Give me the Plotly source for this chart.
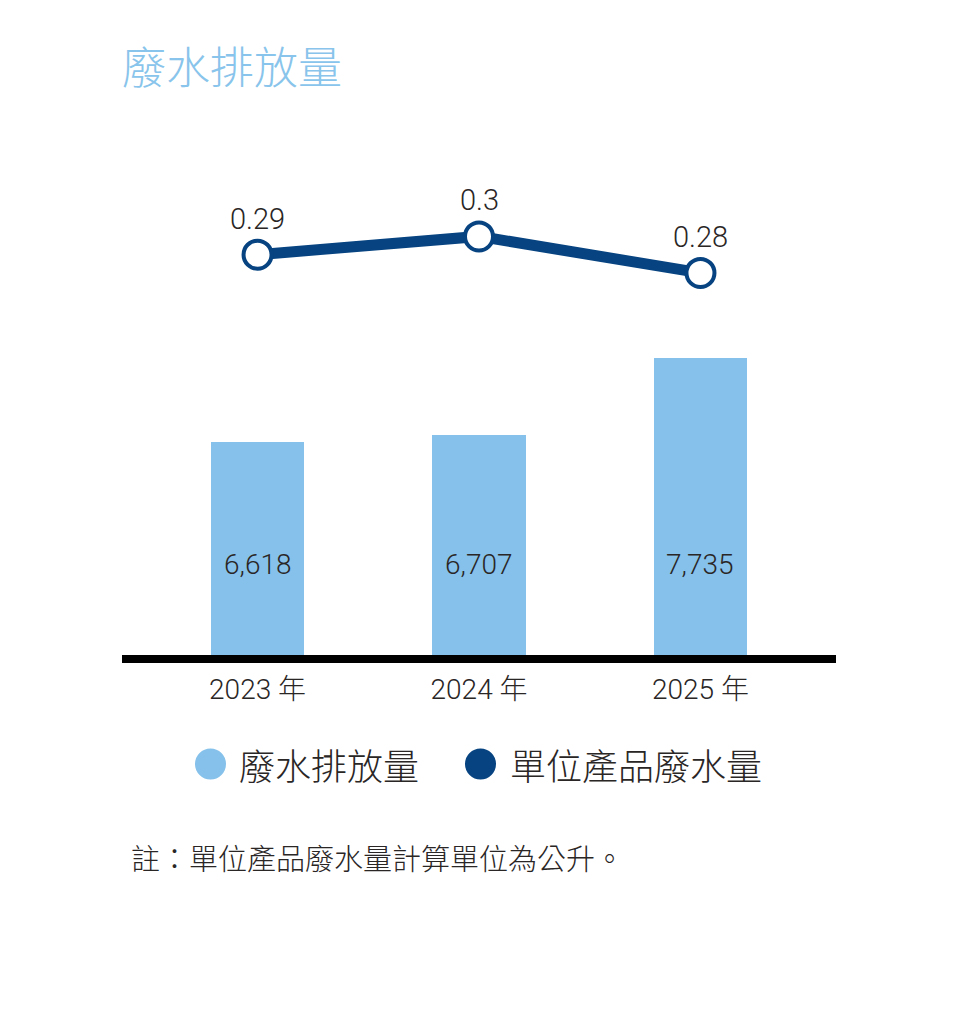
import plotly.graph_objects as go

# ---- data ----
years = ["2023 年", "2024 年", "2025 年"]
wastewater = [6618, 6707, 7735]          # 廢水排放量
unit_wastewater = [0.29, 0.3, 0.28]      # 單位產品廢水量
unit_labels = ["0.29", "0.3", "0.28"]
series_names = ["廢水排放量", "單位產品廢水量"]
title_text = "廢水排放量"
note_text = "註：單位產品廢水量計算單位為公升。"

# ---- style ----
OFF = 8                       # page body margin
W, H = 954 - OFF, 1024 - OFF
L, R, T, B = 122 - OFF, 836 - OFF, 180 - OFF, 655 - OFF
BAR_C = "#85C1EA"
LINE_C = "#064380"
TXT_C = "#2a2626"
TITLE_C = "#88C4EB"
FONT = "Roboto, Noto Sans CJK TC, sans-serif"
CJK = "Noto Sans CJK TC, sans-serif"


def px_x(px):
    return (px - OFF - L) / (R - L)


def px_y(py):
    return (B - (py - OFF)) / (B - T)


fig = go.Figure()

fig.add_trace(go.Bar(
    x=years, y=wastewater, name=series_names[0],
    marker=dict(color=BAR_C, line=dict(width=0)),
    width=0.424, showlegend=False, hoverinfo="skip",
))

fig.add_trace(go.Scatter(
    x=years, y=unit_wastewater, name=series_names[1], yaxis="y2",
    mode="lines+markers",
    line=dict(color=LINE_C, width=11),
    marker=dict(size=28, color="white", line=dict(color=LINE_C, width=4)),
    showlegend=False, hoverinfo="skip", cliponaxis=False,
))

annotations = []
# bar value labels
for yr, v in zip(years, wastewater):
    annotations.append(dict(
        x=yr, xref="x", y=0, yref="paper", yshift=91, yanchor="middle",
        text=f"{v:,}", showarrow=False,
        font=dict(family=FONT, size=28, color=TXT_C, weight=300),
    ))
# line value labels
for yr, v, lab in zip(years, unit_wastewater, unit_labels):
    annotations.append(dict(
        x=yr, xref="x", y=v, yref="y2", yshift=36, yanchor="middle",
        text=lab, showarrow=False,
        font=dict(family=FONT, size=29, color=TXT_C, weight=300),
    ))

# legend (manual, large circles)
legend_items = [
    (series_names[0], BAR_C, 210.5, 237),
    (series_names[1], LINE_C, 480.5, 508),
]
LEG_Y = 764
shapes = []
for name, col, cx, tx in legend_items:
    shapes.append(dict(
        type="circle", xref="paper", yref="paper",
        xsizemode="pixel", ysizemode="pixel",
        xanchor=px_x(cx), yanchor=px_y(LEG_Y),
        x0=-15.5, x1=15.5, y0=-15.5, y1=15.5,
        fillcolor=col, line=dict(width=0),
    ))
    annotations.append(dict(
        x=px_x(tx), xref="paper", y=px_y(LEG_Y), yref="paper",
        xanchor="left", yanchor="middle", text=name, showarrow=False,
        font=dict(family=CJK, size=36, color=TXT_C, weight=300),
    ))

# footnote
annotations.append(dict(
    x=px_x(129), xref="paper", y=px_y(857), yref="paper",
    xanchor="left", yanchor="middle", text=note_text, showarrow=False,
    font=dict(family=CJK, size=29, color=TXT_C, weight=300),
))

fig.update_layout(
    width=W, height=H,
    margin=dict(l=L, r=W - R, t=T, b=H - B, pad=0),
    paper_bgcolor="white", plot_bgcolor="white",
    title=dict(
        text=title_text, xref="container", yref="container",
        x=(122 - OFF) / W, xanchor="left", y=1 - (69 - OFF) / H,
        yanchor="middle",
        font=dict(family=CJK, size=44, color=TITLE_C, weight=300),
    ),
    xaxis=dict(
        type="category", range=[-0.612, 2.612],
        showline=True, linecolor="black", linewidth=8,
        ticks="", showgrid=False, zeroline=False,
        tickfont=dict(family=FONT, size=28, color=TXT_C, weight=300),
        ticklabelstandoff=2,
    ),
    yaxis=dict(
        range=[3781, 10103], visible=False, showgrid=False, zeroline=False,
    ),
    yaxis2=dict(
        range=[0.07064, 0.33091], overlaying="y", visible=False,
        showgrid=False, zeroline=False,
    ),
    annotations=annotations,
    shapes=shapes,
    showlegend=False,
    bargap=0,
)

fig.write_html("out.html")
